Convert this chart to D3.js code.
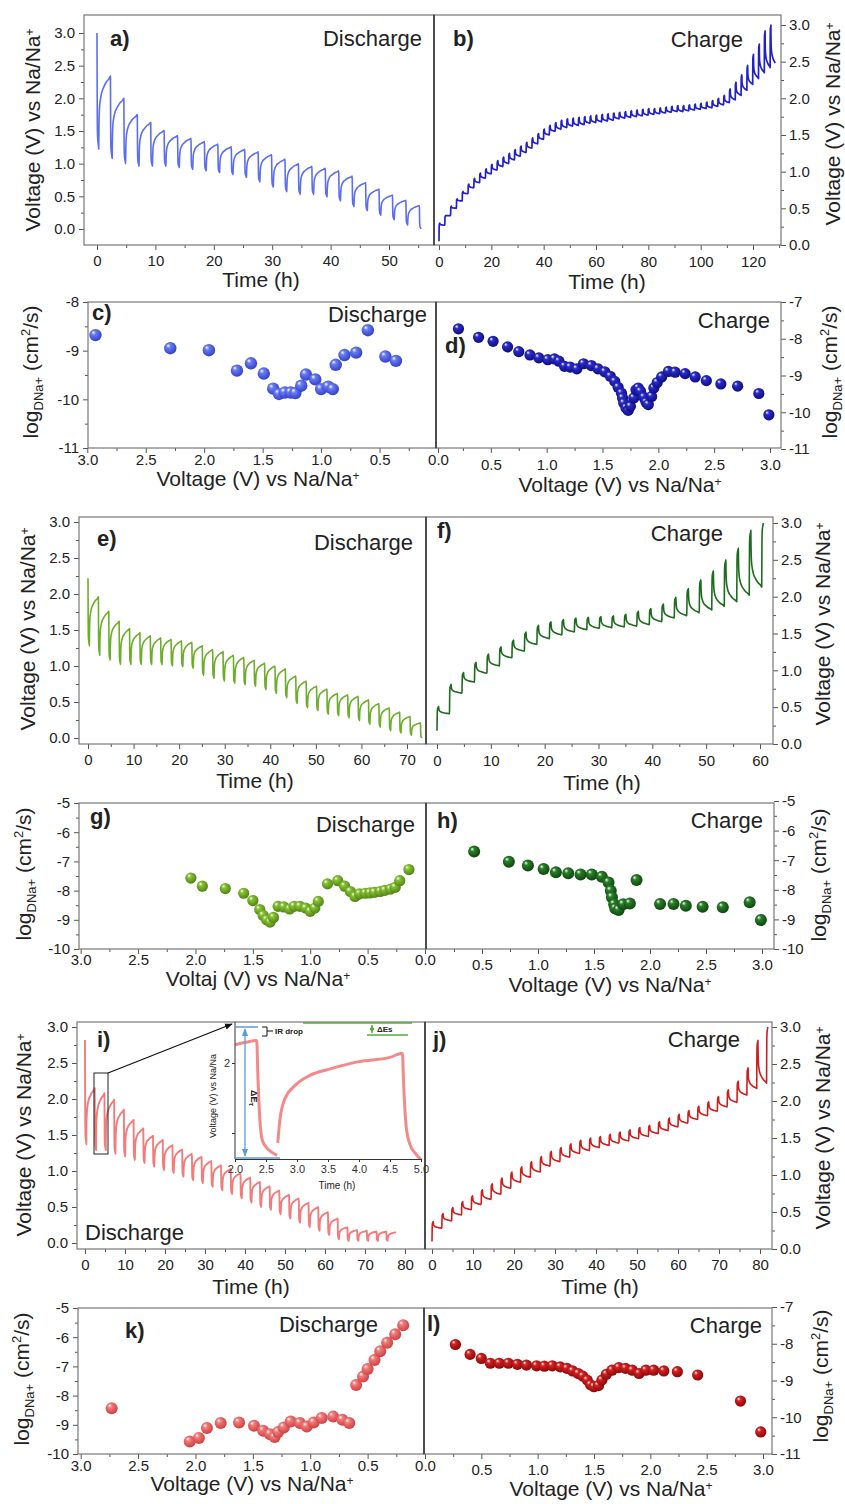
<!DOCTYPE html>
<html>
<head>
<meta charset="utf-8">
<script src="https://cdn.jsdelivr.net/npm/d3@7/dist/d3.min.js"></script>
<style>
html,body{margin:0;padding:0;background:#fff;}
svg{display:block;}
</style>
</head>
<body>
<svg id="fig" width="845" height="1504" xmlns="http://www.w3.org/2000/svg"></svg>
<script>
// ======================= DATA =======================
// GITT voltage profiles: relaxed voltage before each pulse / voltage at end of each pulse
// a) discharge (light blue)
const aPeriod = 2.3;
const aRelaxed  = [3.0,2.34,2.0,1.75,1.63,1.51,1.43,1.39,1.34,1.30,1.26,1.22,1.18,1.14,1.07,1.0,0.96,0.93,0.89,0.81,0.71,0.61,0.52,0.44,0.36];
const aPulseEnd = [1.22,1.08,1.0,0.96,0.96,0.96,0.94,0.91,0.89,0.86,0.83,0.79,0.72,0.64,0.57,0.53,0.53,0.49,0.43,0.34,0.28,0.21,0.14,0.06,0.0];
// b) charge (dark blue)
const bPeriod = 2.22;
const bRelaxed  = [0.05,0.27,0.40,0.50,0.60,0.70,0.78,0.85,0.91,0.97,1.02,1.07,1.11,1.16,1.21,1.26,1.32,1.38,1.44,1.50,1.55,1.58,1.60,1.62,1.63,1.64,1.66,1.67,1.68,1.69,1.70,1.72,1.73,1.74,1.75,1.76,1.77,1.78,1.79,1.80,1.81,1.82,1.82,1.83,1.84,1.85,1.86,1.87,1.89,1.91,1.94,1.98,2.04,2.11,2.19,2.27,2.35,2.42,2.48];
const bPulseEnd = [0.30,0.40,0.53,0.63,0.73,0.83,0.91,0.98,1.04,1.10,1.15,1.20,1.25,1.30,1.35,1.40,1.46,1.52,1.58,1.63,1.67,1.70,1.72,1.73,1.74,1.75,1.76,1.77,1.78,1.79,1.80,1.81,1.82,1.83,1.84,1.85,1.86,1.86,1.87,1.88,1.89,1.90,1.90,1.91,1.92,1.93,1.95,1.97,2.00,2.04,2.13,2.22,2.32,2.45,2.60,2.74,2.92,3.0];
// e) discharge (light green)
const ePeriod = 2.28;
const eRelaxed  = [2.22,1.96,1.76,1.62,1.52,1.46,1.42,1.39,1.37,1.35,1.33,1.28,1.23,1.20,1.15,1.12,1.08,1.04,1.0,0.96,0.86,0.79,0.72,0.68,0.62,0.60,0.58,0.53,0.48,0.42,0.36,0.30,0.21];
const ePulseEnd = [1.28,1.15,1.08,1.02,1.02,1.02,1.02,1.02,1.0,0.99,0.97,0.87,0.83,0.79,0.76,0.74,0.72,0.67,0.62,0.56,0.48,0.42,0.38,0.33,0.31,0.28,0.24,0.19,0.15,0.10,0.07,0.04,0.0];
// f) charge (dark green)
const fPeriod = 2.32;
const fRelaxed  = [0.18,0.41,0.69,0.84,0.96,1.06,1.17,1.26,1.35,1.43,1.48,1.52,1.55,1.57,1.58,1.59,1.60,1.62,1.66,1.71,1.74,1.78,1.82,1.87,1.93,2.02,2.13];
const fPulseEnd = [0.51,0.81,0.97,1.11,1.22,1.32,1.41,1.52,1.61,1.66,1.69,1.71,1.72,1.73,1.74,1.76,1.80,1.84,1.90,1.99,2.11,2.23,2.35,2.50,2.66,2.90,3.0];
// i) discharge (salmon)
const iPeriod = 2.43;
const iRelaxed  = [2.82,2.15,2.08,1.99,1.85,1.71,1.59,1.49,1.43,1.36,1.30,1.24,1.20,1.14,1.08,1.03,0.97,0.91,0.85,0.79,0.73,0.67,0.62,0.56,0.50,0.43,0.34,0.22,0.18,0.17,0.16,0.16,0.15];
const iPulseEnd = [1.37,1.29,1.29,1.24,1.20,1.15,1.11,1.06,1.01,0.97,0.92,0.87,0.83,0.78,0.73,0.68,0.62,0.56,0.50,0.46,0.40,0.34,0.28,0.22,0.17,0.11,0.05,0.03,0.03,0.03,0.03,0.03];
// j) charge (red)
const jPeriod = 2.4;
const jRelaxed  = [0.10,0.28,0.38,0.46,0.53,0.60,0.67,0.74,0.82,0.90,0.97,1.04,1.12,1.18,1.24,1.29,1.33,1.37,1.40,1.43,1.46,1.49,1.52,1.56,1.60,1.65,1.70,1.75,1.80,1.86,1.92,1.98,2.08,2.17,2.24];
const jPulseEnd = [0.37,0.48,0.56,0.64,0.72,0.80,0.88,0.96,1.04,1.11,1.18,1.25,1.32,1.37,1.42,1.47,1.50,1.52,1.55,1.58,1.61,1.64,1.67,1.72,1.77,1.82,1.87,1.93,1.99,2.06,2.15,2.27,2.45,2.82,3.0];

// Shape of one pulse / one relaxation (fraction of time, fraction of change) read from the inset of i)
const pulseShape = [[0,0],[0.06,0.3],[0.15,0.68],[0.27,0.86],[0.45,0.92],[0.76,0.96],[1,1]];
const relaxShape = [[0,0],[0.005,0.12],[0.02,0.33],[0.06,0.55],[0.14,0.68],[0.26,0.78],[0.43,0.85],[0.65,0.92],[0.9,0.97],[1,1]];

// Inset of i): single titration
const insetT1 = [2.0,2.2,2.35,2.37,2.40,2.44,2.5,2.6,2.68];
const insetV1 = [2.13,2.15,2.16,1.9,1.6,1.45,1.40,1.36,1.34];
const insetT2 = [2.69,2.72,2.8,2.97,3.2,3.55,4.0,4.5,4.7,4.72,4.76,4.82,4.9,5.0];
const insetV2 = [1.43,1.58,1.74,1.84,1.91,1.96,2.01,2.04,2.07,1.85,1.55,1.42,1.36,1.31];

// Diffusion coefficients: voltage (V) and log D
const cV = [2.93,2.29,1.96,1.72,1.60,1.49,1.41,1.36,1.31,1.26,1.22,1.17,1.13,1.05,1.00,0.94,0.90,0.875,0.80,0.70,0.60,0.45,0.36];
const cD = [-8.68,-8.95,-8.99,-9.41,-9.26,-9.47,-9.78,-9.89,-9.86,-9.86,-9.87,-9.72,-9.49,-9.59,-9.79,-9.74,-9.79,-9.29,-9.09,-9.04,-8.58,-9.12,-9.21];
const dV = [0.21,0.39,0.52,0.65,0.75,0.85,0.93,1.01,1.07,1.11,1.16,1.21,1.27,1.33,1.40,1.46,1.52,1.57,1.61,1.64,1.67,1.68,1.69,1.71,1.73,1.75,1.78,1.80,1.82,1.84,1.87,1.89,1.91,1.94,1.96,1.99,2.03,2.09,2.15,2.24,2.33,2.43,2.56,2.71,2.90,2.99];
const dD = [-7.73,-7.96,-8.07,-8.22,-8.35,-8.44,-8.52,-8.57,-8.55,-8.61,-8.75,-8.77,-8.82,-8.68,-8.73,-8.82,-8.90,-9.02,-9.16,-9.32,-9.48,-9.61,-9.75,-9.88,-9.95,-9.84,-9.61,-9.39,-9.34,-9.43,-9.59,-9.73,-9.79,-9.57,-9.34,-9.19,-9.04,-8.89,-8.91,-8.95,-9.04,-9.14,-9.23,-9.29,-9.49,-10.07];
const gV = [2.04,1.94,1.74,1.58,1.50,1.44,1.41,1.38,1.35,1.32,1.28,1.23,1.18,1.14,1.09,1.04,1.00,0.96,0.93,0.85,0.76,0.70,0.65,0.61,0.57,0.52,0.48,0.44,0.39,0.35,0.30,0.26,0.22,0.14];
const gD = [-7.57,-7.85,-7.93,-8.09,-8.34,-8.65,-8.85,-9.00,-9.08,-8.92,-8.54,-8.56,-8.63,-8.54,-8.54,-8.60,-8.71,-8.60,-8.37,-7.77,-7.66,-7.85,-8.03,-8.20,-8.11,-8.09,-8.08,-8.06,-8.03,-7.99,-7.95,-7.89,-7.66,-7.28];
const hV = [0.43,0.74,0.91,1.05,1.16,1.27,1.38,1.48,1.57,1.63,1.65,1.66,1.68,1.69,1.72,1.76,1.82,1.88,2.09,2.21,2.32,2.47,2.65,2.89,2.99];
const hD = [-6.71,-7.05,-7.18,-7.30,-7.41,-7.44,-7.48,-7.48,-7.56,-7.75,-8.03,-8.25,-8.49,-8.63,-8.68,-8.49,-8.46,-7.67,-8.48,-8.48,-8.54,-8.57,-8.59,-8.42,-9.02];
const kV = [2.73,2.05,1.97,1.90,1.78,1.62,1.49,1.41,1.35,1.31,1.28,1.23,1.17,1.09,1.03,0.97,0.90,0.80,0.72,0.66,0.60,0.54,0.50,0.44,0.39,0.33,0.26,0.19];
const kD = [-8.43,-9.57,-9.45,-9.11,-8.94,-8.92,-9.03,-9.20,-9.32,-9.42,-9.25,-9.09,-8.89,-8.94,-9.06,-8.92,-8.77,-8.72,-8.83,-8.94,-7.64,-7.35,-7.09,-6.78,-6.48,-6.19,-5.90,-5.59];
const lV = [0.27,0.40,0.50,0.58,0.66,0.74,0.82,0.90,0.99,1.06,1.13,1.20,1.26,1.31,1.36,1.40,1.44,1.47,1.50,1.54,1.57,1.61,1.66,1.72,1.78,1.84,1.90,1.96,2.03,2.12,2.24,2.42,2.80,2.98];
const lD = [-8.02,-8.29,-8.40,-8.53,-8.53,-8.53,-8.56,-8.58,-8.60,-8.61,-8.60,-8.63,-8.67,-8.74,-8.81,-8.88,-8.99,-9.12,-9.17,-9.14,-8.99,-8.83,-8.72,-8.65,-8.67,-8.72,-8.81,-8.72,-8.72,-8.74,-8.76,-8.85,-9.56,-10.40];

// Tick values
const timeTicksA = [0,10,20,30,40,50];
const timeTicksB = [0,20,40,60,80,100,120];
const timeTicksE = [0,10,20,30,40,50,60,70];
const timeTicksF = [0,10,20,30,40,50,60];
const timeTicksI = [0,10,20,30,40,50,60,70,80];
const voltTicks  = [0,0.5,1,1.5,2,2.5,3];
const voltTicksR = [0.5,1,1.5,2,2.5,3];
const logTicksC  = [-8,-9,-10,-11];
const logTicksD  = [-7,-8,-9,-10,-11];
const logTicksG  = [-5,-6,-7,-8,-9,-10];
const insetTicks = [2.0,2.5,3.0,3.5,4.0,4.5,5.0];

// ======================= LAYOUT =======================
const FONT = "'Liberation Sans', Arial, Helvetica, sans-serif";
const TICK_FS = 15, TITLE_FS = 21;
const svg = d3.select("#fig").attr("font-family", FONT);
const defs = svg.append("defs");
const f1 = d3.format(".1f");
const fInt = d => String(d);
const minor = (a, b, s) => d3.range(a, b + 1e-9, s);

// xb = offset of bottom tick-label baseline below the frame, tb = x-title baseline
const layout = {
  a:{frame:[84,434,15,245], xr:[[0,97],[50,389]], yr:[[0,229],[3,33]], side:"left", xb:21, tb:287,
     xt:timeTicksA, xm:minor(5,55,10), yt:voltTicks, ym:minor(0.25,2.75,0.5), xf:fInt, yf:f1},
  b:{frame:[434,781,15,245], xr:[[0,439],[120,753]], yr:[[0,245],[3,25]], side:"right", xb:22, tb:289,
     xt:timeTicksB, xm:minor(10,130,20), yt:voltTicks, ym:minor(0.25,2.75,0.5), xf:fInt, yf:f1},
  c:{frame:[88,436,302,448], xr:[[3,87.3],[0,438]], yr:[[-8,302],[-11,448]], side:"left", xb:17, tb:486,
     xt:voltTicks, xm:minor(0.25,2.75,0.5), yt:logTicksC, ym:[-8.5,-9.5,-10.5], xf:f1, yf:fInt},
  d:{frame:[436,781,302,448], xr:[[0,435],[3,770]], yr:[[-7,302],[-11,449]], side:"right", xb:22, tb:492,
     xt:voltTicksR, xm:minor(0.25,2.75,0.5), yt:logTicksD, ym:[-7.5,-8.5,-9.5,-10.5], xf:f1, yf:fInt},
  e:{frame:[79,426,517,744], xr:[[0,88],[70,407]], yr:[[0,738],[3,522]], side:"left", xb:21, tb:788,
     xt:timeTicksE, xm:minor(5,65,10), yt:voltTicks, ym:minor(0.25,2.75,0.5), xf:fInt, yf:f1},
  f:{frame:[426,773,517,744], xr:[[0,437],[60,760]], yr:[[0,744],[3,523]], side:"right", xb:22, tb:790,
     xt:timeTicksF, xm:minor(5,55,10), yt:voltTicks, ym:minor(0.25,2.75,0.5), xf:fInt, yf:f1},
  g:{frame:[79,426,803,949], xr:[[3,80.7],[0,425]], yr:[[-5,803],[-10,949]], side:"left", xb:16, tb:986,
     xt:voltTicks, xm:minor(0.25,2.75,0.5), yt:logTicksG, ym:minor(-9.5,-5.5,1), xf:f1, yf:fInt},
  h:{frame:[426,774,803,949], xr:[[0,426],[3,762]], yr:[[-5,801],[-10,949]], side:"right", xb:21, tb:992,
     xt:voltTicksR, xm:minor(0.25,2.75,0.5), yt:logTicksG, ym:minor(-9.5,-5.5,1), xf:f1, yf:fInt},
  i:{frame:[77,425,1022,1249], xr:[[0,85],[80,405]], yr:[[0,1243],[3,1027]], side:"left", xb:21, tb:1294,
     xt:timeTicksI, xm:minor(5,75,10), yt:voltTicks, ym:minor(0.25,2.75,0.5), xf:fInt, yf:f1},
  j:{frame:[425,772,1022,1249], xr:[[0,432],[80,760]], yr:[[0,1249],[3,1027]], side:"right", xb:21, tb:1294,
     xt:timeTicksI, xm:minor(5,75,10), yt:voltTicks, ym:minor(0.25,2.75,0.5), xf:fInt, yf:f1},
  k:{frame:[78,424,1308,1454], xr:[[3,80.7],[0,425]], yr:[[-5,1308],[-10,1454]], side:"left", xb:17, tb:1491,
     xt:voltTicks, xm:minor(0.25,2.75,0.5), yt:logTicksG, ym:minor(-9.5,-5.5,1), xf:f1, yf:fInt},
  l:{frame:[424,772,1308,1454], xr:[[0,425],[3,763]], yr:[[-7,1307],[-11,1454]], side:"right", xb:21, tb:1496,
     xt:voltTicksR, xm:minor(0.25,2.75,0.5), yt:logTicksD, ym:[-7.5,-8.5,-9.5,-10.5], xf:f1, yf:fInt}
};

// sphere gradients
function sphere(id, base, dark) {
  const gr = defs.append("radialGradient").attr("id", id)
    .attr("cx","45%").attr("cy","42%").attr("r","62%").attr("fx","32%").attr("fy","28%");
  gr.append("stop").attr("offset","0%").attr("stop-color","#ffffff");
  gr.append("stop").attr("offset","28%").attr("stop-color",base);
  gr.append("stop").attr("offset","100%").attr("stop-color",dark);
}
sphere("sc","#6a7cf5","#2c3cc0");
sphere("sd","#2a2ad0","#0c0c70");
sphere("sg","#86c232","#4d7e12");
sphere("sh","#2a802a","#0c400c");
sphere("sk","#f47a7a","#c83c3c");
sphere("sl","#d82020","#800808");

function marker(id, color) {
  defs.append("marker").attr("id", id).attr("viewBox","0 0 10 10").attr("refX",9).attr("refY",5)
    .attr("markerWidth",6).attr("markerHeight",6).attr("orient","auto-start-reverse")
    .append("path").attr("d","M0,1L10,5L0,9z").attr("fill", color);
}
marker("mk","#111"); marker("mb","#5b9bd5"); marker("mg","#5aa83a");

function styleAxis(sel) {
  sel.attr("font-family", null).attr("font-size", null);
  sel.select(".domain").remove();
  sel.selectAll(".tick line").attr("stroke","#555").attr("stroke-width",1);
  sel.selectAll(".tick text").attr("fill","#222").attr("font-size",TICK_FS);
}

function buildPanel(key) {
  const L = layout[key];
  const [x0,x1,y0,y1] = L.frame;
  const x = d3.scaleLinear().domain([L.xr[0][0], L.xr[1][0]]).range([L.xr[0][1], L.xr[1][1]]);
  const y = d3.scaleLinear().domain([L.yr[0][0], L.yr[1][0]]).range([L.yr[0][1], L.yr[1][1]]);
  const g = svg.append("g").attr("class","panel-"+key);
  defs.append("clipPath").attr("id","clip-"+key).append("rect")
    .attr("x",x0).attr("y",y0).attr("width",x1-x0).attr("height",y1-y0);
  const pad = L.xb - 5 - 0.71*TICK_FS;
  g.append("g").attr("transform",`translate(0,${y1})`)
    .call(d3.axisBottom(x).tickValues(L.xm).tickSize(3).tickFormat("")).call(styleAxis);
  g.append("g").attr("transform",`translate(0,${y1})`)
    .call(d3.axisBottom(x).tickValues(L.xt).tickSize(5).tickPadding(pad).tickFormat(L.xf)).call(styleAxis);
  if (L.side === "left") {
    g.append("g").attr("transform",`translate(${x0},0)`)
      .call(d3.axisLeft(y).tickValues(L.ym).tickSize(3).tickFormat("")).call(styleAxis);
    g.append("g").attr("transform",`translate(${x0},0)`)
      .call(d3.axisLeft(y).tickValues(L.yt).tickSize(5).tickPadding(4).tickFormat(L.yf)).call(styleAxis);
  } else {
    g.append("g").attr("transform",`translate(${x1},0)`)
      .call(d3.axisRight(y).tickValues(L.ym).tickSize(3).tickFormat("")).call(styleAxis);
    g.append("g").attr("transform",`translate(${x1},0)`)
      .call(d3.axisRight(y).tickValues(L.yt).tickSize(5).tickPadding(3).tickFormat(L.yf)).call(styleAxis);
  }
  return {g, x, y, L, key};
}

function frame(P) {
  const [x0,x1,y0,y1] = P.L.frame;
  P.g.append("rect").attr("x",x0).attr("y",y0).attr("width",x1-x0).attr("height",y1-y0)
    .attr("fill","none").attr("stroke","#777").attr("stroke-width",1.2);
}

// build GITT trace from pulse values
function gitt(relaxed, pulseEnd, period, pulseDur, finalDur) {
  const pts = [];
  const n = pulseEnd.length;
  for (let i = 0; i < n; i++) {
    const t0 = i * period;
    pulseShape.forEach(([tau,f]) => pts.push([t0 + tau*pulseDur, relaxed[i] + f*(pulseEnd[i]-relaxed[i])]));
    if (i + 1 < relaxed.length) {
      const dur = (i < n-1 || finalDur == null) ? period - pulseDur : finalDur;
      const target = relaxed[i+1];
      relaxShape.slice(1).forEach(([tau,f]) => pts.push([t0 + pulseDur + tau*dur, pulseEnd[i] + f*(target-pulseEnd[i])]));
    }
  }
  return pts;
}

function drawTrace(P, pts, color, width) {
  const line = d3.line().x(d => P.x(d[0])).y(d => P.y(d[1])).curve(d3.curveMonotoneX);
  P.g.append("path").datum(pts).attr("clip-path",`url(#clip-${P.key})`)
    .attr("d", line).attr("fill","none").attr("stroke",color).attr("stroke-width",width)
    .attr("stroke-linejoin","round");
}

function drawSpheres(P, V, D, grad, r) {
  P.g.append("g").selectAll("circle").data(V.map((v,i)=>[v,D[i]])).join("circle")
    .attr("cx", d => P.x(d[0])).attr("cy", d => P.y(d[1])).attr("r", r)
    .attr("fill", `url(#${grad})`);
}

function richText(parent, x, y, parts, size, anchor, rotate, weight) {
  const t = parent.append("text").attr("x",x).attr("y",y).attr("font-size",size)
    .attr("fill","#222").attr("text-anchor",anchor || "middle");
  if (weight) t.attr("font-weight", weight);
  if (rotate) t.attr("transform",`rotate(${rotate},${x},${y})`);
  parts.forEach(p => t.append("tspan").text(p.t).attr("dy", p.dy || 0).attr("font-size", p.s || size));
  return t;
}
const naParts = label => [{t: label + " (V) vs Na/Na"}, {t:"+", dy:-6, s:12}];
const logParts = [{t:"log"},{t:"DNa+",dy:5,s:13},{t:" (cm",dy:-5},{t:"2",dy:-8,s:13},{t:"/s)",dy:8}];
const timeParts = [{t:"Time (h)"}];

// ======================= PANELS =======================
const P = {};
"abcdefghijkl".split("").forEach(k => P[k] = buildPanel(k));

drawTrace(P.a, gitt(aRelaxed, aPulseEnd, aPeriod, 0.3), "#5b6ef2", 1.6);
drawTrace(P.b, gitt(bRelaxed, bPulseEnd, bPeriod, 0.3, 1.6), "#2020cc", 1.7);
drawTrace(P.e, gitt(eRelaxed, ePulseEnd, ePeriod, 0.3), "#6cad2a", 1.6);
drawTrace(P.f, gitt(fRelaxed, fPulseEnd, fPeriod, 0.3), "#1d6b1d", 1.6);
drawTrace(P.i, gitt(iRelaxed, iPulseEnd, iPeriod, 0.33), "#f27c7c", 1.9);
drawTrace(P.j, gitt(jRelaxed, jPulseEnd, jPeriod, 0.3), "#d11c1c", 1.6);

drawSpheres(P.c, cV, cD, "sc", 6.2);
drawSpheres(P.d, dV, dD, "sd", 5.6);
drawSpheres(P.g, gV, gD, "sg", 5.6);
drawSpheres(P.h, hV, hD, "sh", 6.0);
drawSpheres(P.k, kV, kD, "sk", 6.0);
drawSpheres(P.l, lV, lD, "sl", 5.6);

"abcdefghijkl".split("").forEach(k => frame(P[k]));
// dividers between left and right panels
[[434,15,245],[436,302,448],[426,517,744],[426,803,949],[425,1022,1249],[424,1308,1454]].forEach(([x,a,b]) =>
  svg.append("line").attr("x1",x).attr("x2",x).attr("y1",a).attr("y2",b).attr("stroke","#333").attr("stroke-width",1.4));

// ---------- inset in i) ----------
const inset = svg.append("g");
const ix = d3.scaleLinear().domain([2,5]).range([235,421]);
const iy = d3.scaleLinear().domain([2,1.5]).range([1063,1133]);
defs.append("clipPath").attr("id","clip-inset").append("rect").attr("x",235).attr("y",1022).attr("width",189).attr("height",137);
inset.append("rect").attr("x",235).attr("y",1023).attr("width",189).attr("height",136).attr("fill","#fff");
const insetLine = d3.line().x(d=>ix(d[0])).y(d=>iy(d[1])).curve(d3.curveMonotoneX);
[[insetT1,insetV1],[insetT2,insetV2]].forEach(([T,V]) =>
  inset.append("path").datum(T.map((t,i)=>[t,V[i]])).attr("clip-path","url(#clip-inset)")
    .attr("d",insetLine).attr("fill","none").attr("stroke","#f27c7c").attr("stroke-width",3).attr("opacity",0.9));
const ixa = inset.append("g").attr("transform","translate(0,1159)")
  .call(d3.axisBottom(ix).tickValues(insetTicks).tickSize(3).tickPadding(3).tickFormat(f1));
ixa.attr("font-family",null).attr("font-size",null);
ixa.select(".domain").attr("stroke","#333");
ixa.selectAll(".tick line").attr("stroke","#333");
ixa.selectAll(".tick text").attr("font-size",11).attr("fill","#333");
const iya = inset.append("g").attr("transform","translate(235,0)")
  .call(d3.axisLeft(iy).tickValues([1.5,2]).tickSize(3).tickPadding(2).tickFormat(d => d===2 ? "2" : ""));
iya.attr("font-family",null).attr("font-size",null);
iya.select(".domain").remove();
iya.selectAll(".tick line").attr("stroke","#333");
iya.selectAll(".tick text").attr("font-size",11).attr("fill","#333");
inset.append("line").attr("x1",235).attr("x2",235).attr("y1",1022).attr("y2",1159).attr("stroke","#333");
richText(inset, 337, 1189, [{t:"Time (h)"}], 10);
richText(inset, 216, 1096, [{t:"Voltage (V) vs Na/Na"}], 9, "middle", -90);
// annotations
inset.append("line").attr("x1",235).attr("x2",258).attr("y1",1027).attr("y2",1027).attr("stroke","#5b9bd5").attr("stroke-width",1.5);
inset.append("line").attr("x1",235).attr("x2",280).attr("y1",1158).attr("y2",1158).attr("stroke","#5b9bd5").attr("stroke-width",1.5);
inset.append("line").attr("x1",245).attr("x2",245).attr("y1",1029).attr("y2",1156).attr("stroke","#5b9bd5").attr("stroke-width",1.3)
  .attr("marker-start","url(#mb)").attr("marker-end","url(#mb)");
richText(inset, 251, 1098, [{t:"ΔE"},{t:"τ",dy:2,s:8}], 9, "middle", 90, "bold");
inset.append("path").attr("d","M262,1027 H267 V1036 H262 M267,1031 H273").attr("fill","none").attr("stroke","#111").attr("stroke-width",1);
richText(inset, 275, 1034, [{t:"IR drop"}], 8, "start", 0, "bold");
inset.append("line").attr("x1",303).attr("x2",412).attr("y1",1023).attr("y2",1023).attr("stroke","#5aa83a").attr("stroke-width",1.5);
inset.append("line").attr("x1",367).attr("x2",408).attr("y1",1035).attr("y2",1035).attr("stroke","#5aa83a").attr("stroke-width",1.5);
inset.append("line").attr("x1",372).attr("x2",372).attr("y1",1025).attr("y2",1033).attr("stroke","#5aa83a").attr("stroke-width",1)
  .attr("marker-start","url(#mg)").attr("marker-end","url(#mg)");
richText(inset, 377, 1032, [{t:"ΔEs"}], 8, "start", 0, "bold");
// zoom box + arrow
svg.append("rect").attr("x",94).attr("y",1073).attr("width",14).attr("height",81).attr("fill","none").attr("stroke","#222").attr("stroke-width",1);
svg.append("line").attr("x1",108).attr("y1",1073).attr("x2",232).attr("y2",1024).attr("stroke","#111").attr("stroke-width",1.3).attr("marker-end","url(#mk)");

// ---------- titles ----------
const T = svg.append("g");
// x titles
const xTitles = [["a",261,timeParts],["b",607,timeParts],["c",258,naParts("Voltage")],["d",620,naParts("Voltage")],
                 ["e",255,timeParts],["f",602,timeParts],["g",258,naParts("Voltaj")],["h",610,naParts("Voltage")],
                 ["i",251,timeParts],["j",600,timeParts],["k",252,naParts("Voltage")],["l",611,naParts("Voltage")]];
xTitles.forEach(([k,x,parts]) => richText(T, x, layout[k].tb, parts, TITLE_FS));
// y titles
richText(T, 40, 130, naParts("Voltage"), TITLE_FS, "middle", -90);
richText(T, 840, 124, naParts("Voltage"), TITLE_FS, "middle", -90);
richText(T, 38, 372, logParts, TITLE_FS, "middle", -90);
richText(T, 837, 372, logParts, TITLE_FS, "middle", -90);
richText(T, 35, 629, naParts("Voltage"), TITLE_FS, "middle", -90);
richText(T, 830, 624, naParts("Voltage"), TITLE_FS, "middle", -90);
richText(T, 31, 874, logParts, TITLE_FS, "middle", -90);
richText(T, 826, 875, logParts, TITLE_FS, "middle", -90);
richText(T, 31, 1135, naParts("Voltage"), TITLE_FS, "middle", -90);
richText(T, 830, 1128, naParts("Voltage"), TITLE_FS, "middle", -90);
richText(T, 29, 1379, logParts, TITLE_FS, "middle", -90);
richText(T, 828, 1376, logParts, TITLE_FS, "middle", -90);

// panel letters & state labels
const letters = [["a)",110,46],["b)",453,46],["c)",92,320],["d)",445,353],["e)",97,546],["f)",437,538],
                 ["g)",90,824],["h)",437,828],["i)",97,1047],["j)",433,1047],["k)",125,1338],["l)",427,1331]];
letters.forEach(([t,x,y]) => richText(T, x, y, [{t}], 22, "start", 0, "bold"));
const states = [["Discharge",422,46],["Charge",743,47],["Discharge",427,322],["Charge",770,328],
                ["Discharge",413,550],["Charge",723,541],["Discharge",415,832],["Charge",763,828],
                ["Charge",740,1047],["Discharge",378,1332],["Charge",762,1333]];
states.forEach(([t,x,y]) => richText(T, x, y, [{t}], 22, "end"));
richText(T, 85, 1240, [{t:"Discharge"}], 22, "start");
</script>
</body>
</html>
